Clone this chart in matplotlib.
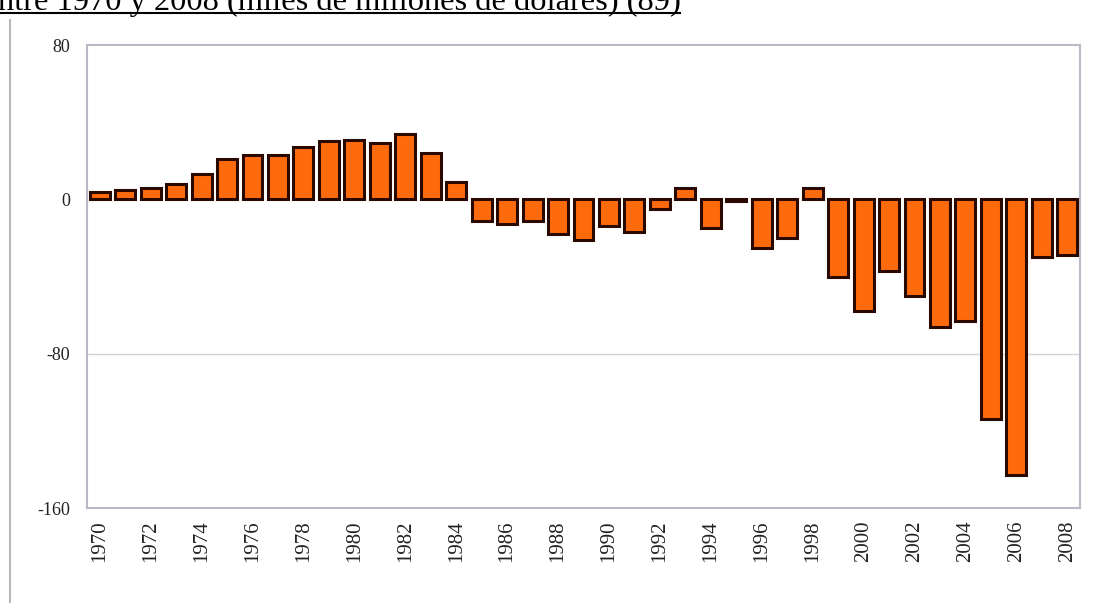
import matplotlib.pyplot as plt
from matplotlib.lines import Line2D

years = list(range(1970, 2009))
saldo = [4, 5, 6, 8, 13, 21, 23, 23, 27, 30, 31, 29, 34, 24, 9,
         -11, -13, -11, -18, -21, -14, -17, -5, 6, -15, -1, -25, -20, 6,
         -40, -58, -37, -50, -66, -63, -114, -143, -30, -29]
yticks = [80, 0, -80, -160]
title = "ntre 1970 y 2008 (miles de millones de dólares) (89)"

plt.rcParams['font.family'] = ['Liberation Serif', 'DejaVu Serif']

fig = plt.figure(figsize=(10.95, 6.03), dpi=100)
ax = fig.add_axes([87 / 1095, 1 - 508 / 603, (1080 - 87) / 1095, (508 - 45) / 603])

ax.bar(years, saldo, width=0.78, color='#ff6a0d', edgecolor='#2a0a00', linewidth=2.2, zorder=3)

ax.set_xlim(1969.5, 2008.5)
ax.set_ylim(-160, 80)
ax.set_yticks(yticks)
ax.set_yticklabels([str(v) for v in yticks], fontsize=13)
ax.set_xticks(years[::2])
ax.set_xticklabels([str(y) for y in years[::2]], rotation=90, fontsize=15)
ax.tick_params(length=0, colors='#222222')
ax.tick_params(axis='y', pad=12)
ax.tick_params(axis='x', pad=9)

ax.axhline(-80, color='#d4d4d8', linewidth=1, zorder=1)
for s in ax.spines.values():
    s.set_color('#b8bac6')
    s.set_linewidth(1.5)

# page border on the left and the cut-off heading above the chart
fig.add_artist(Line2D([10 / 1095, 10 / 1095], [0, 1 - 20 / 603], color='#b8b8b8', linewidth=1.5))
fig.text(-2 / 1095, 1 - 10 / 603, title, fontsize=23.4, ha='left', va='baseline', color='black')
fig.add_artist(Line2D([0, 680 / 1095], [1 - 13 / 603, 1 - 13 / 603], color='black', linewidth=1.5))

fig.savefig('out.png', dpi=100)
